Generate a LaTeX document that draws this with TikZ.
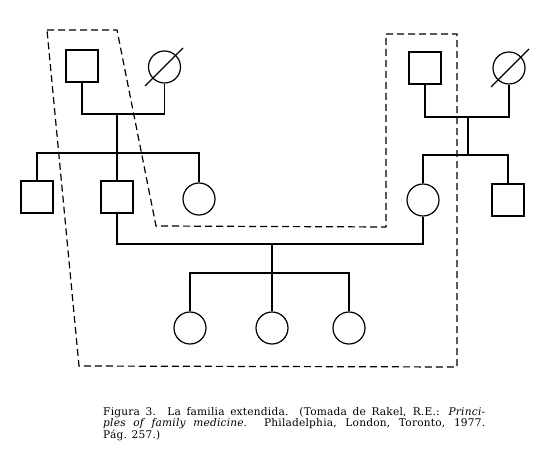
\documentclass[tikz,border=0pt]{standalone}
\usepackage{fontspec}
\setmainfont{DejaVu Serif}
\newfontfamily\capfont[LetterSpace=2]{DejaVu Serif}
\usetikzlibrary{calc}
\begin{document}
\begin{tikzpicture}[x=1pt,y=-1pt,
  male/.style={draw=black,line width=1.2pt,minimum size=32pt,inner sep=0pt,rectangle},
  female/.style={draw=black,line width=1.2pt,minimum size=32pt,inner sep=0pt,circle},
  rel/.style={draw=black,line width=1.2pt},
  bound/.style={draw=black,line width=1.2pt,dash pattern=on 7pt off 4pt},
  slash/.style={draw=black,line width=1.1pt}]
\useasboundingbox (0,0) rectangle (549,462);
% grandparents left
\node[male] (gf1) at (82,66) {};
\node[female] (gm1) at (164.5,67) {};
\draw[slash] ($(gm1)+(-19.5,19)$) -- ($(gm1)+(18.5,-19)$);
% grandparents right
\node[male] (gf2) at (425,68) {};
\node[female] (gm2) at (509,68) {};
\draw[slash] ($(gm2)+(-18,19)$) -- ($(gm2)+(20,-19)$);
% second generation
\node[male] (s1) at (37,197) {};
\node[male] (f) at (117,197) {};
\node[female] (a1) at (199,199) {};
\node[female] (m) at (423,200) {};
\node[male] (s2) at (508,200) {};
% children
\node[female] (c1) at (190,328) {};
\node[female] (c2) at (272,328) {};
\node[female] (c3) at (349,328) {};
% junctions
\coordinate (u1) at (117,114);
\coordinate (sib1) at (117,153);
\coordinate (u2) at (468,117);
\coordinate (sib2) at (468,155);
\coordinate (mar) at (272,244);
\coordinate (kids) at (272,273);
% lines
\draw[rel] (gf1.south) |- (u1) -| (gm1.south);
\draw[rel] (u1) -- (sib1);
\draw[rel] (s1.north) |- (sib1) -| (a1.north);
\draw[rel] (sib1) -- (f.north);
\draw[rel] (gf2.south) |- (u2) -| (gm2.south);
\draw[rel] (u2) -- (sib2);
\draw[rel] (m.north) |- (sib2) -| (s2.north);
\draw[rel] (f.south) |- (mar) -| (m.south);
\draw[rel] (mar) -- (kids);
\draw[rel] (c1.north) |- (kids) -| (c3.north);
\draw[rel] (kids) -- (c2.north);
% extended family boundary
\draw[bound] (47,30) -- (117,30) -- (156,226) -- (386,227) -- (386,34) -- (457,34) -- (457,367) -- (79,366) -- cycle;
% caption
\node[anchor=north west,inner sep=0pt,text width=382pt,align=justify,font=\capfont\fontsize{10.6}{10.4}\selectfont] (cap) at (103,407)
 {Figura 3.\ \ La familia extendida. (Tomada de Rakel, R.E.: \textit{Princi-\linebreak ples of family medicine}. Philadelphia, London, Toronto, 1977.\linebreak Pág. 257.)};
\end{tikzpicture}
\end{document}
